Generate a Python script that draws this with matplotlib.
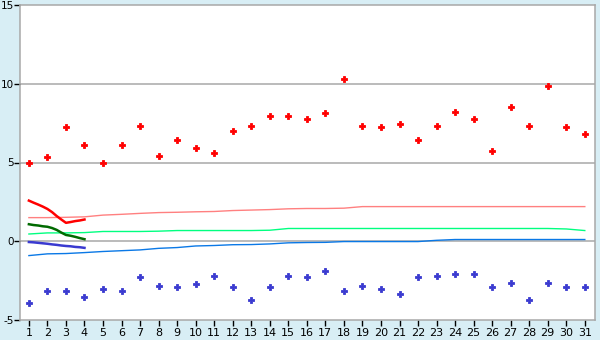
import numpy as np
import matplotlib
matplotlib.use("Agg")
import matplotlib.pyplot as plt

plt.rcParams['axes.unicode_minus'] = False

days = list(range(1, 32))

high_points = [5.0, 5.33, 7.24, 6.1, 5.0, 6.1, 7.3, 5.4, 6.41, 5.9, 5.59, 6.99, 7.3, 7.94, 7.94,
               7.75, 8.13, 10.3, 7.3, 7.24, 7.43, 6.41, 7.3, 8.2, 7.75, 5.71, 8.51, 7.3, 9.85, 7.24, 6.8]
low_points = [-3.89, -3.13, -3.19, -3.51, -3.0, -3.19, -2.3, -2.81, -2.88, -2.69, -2.18, -2.88, -3.7, -2.88, -2.18,
              -2.3, -1.92, -3.13, -2.81, -3.0, -3.32, -2.3, -2.18, -2.11, -2.11, -2.88, -2.62, -3.7, -2.62, -2.88, -2.88]

upper_avg = [1.50, 1.50, 1.52, 1.55, 1.66, 1.71, 1.77, 1.82, 1.84, 1.87, 1.89, 1.95, 1.98, 2.01, 2.06,
             2.08, 2.08, 2.10, 2.20, 2.20, 2.20, 2.20, 2.20, 2.20, 2.20, 2.20, 2.20, 2.20, 2.20, 2.20, 2.20]
mid_avg = [0.46, 0.53, 0.53, 0.55, 0.62, 0.62, 0.62, 0.64, 0.68, 0.68, 0.68, 0.68, 0.68, 0.70, 0.81,
           0.81, 0.81, 0.81, 0.81, 0.81, 0.81, 0.81, 0.81, 0.81, 0.81, 0.81, 0.81, 0.81, 0.81, 0.78, 0.68]
lower_avg = [-0.91, -0.80, -0.78, -0.72, -0.65, -0.60, -0.55, -0.45, -0.40, -0.30, -0.27, -0.22, -0.21, -0.17, -0.10,
             -0.08, -0.07, -0.02, -0.02, -0.02, -0.02, -0.02, 0.06, 0.11, 0.11, 0.11, 0.11, 0.11, 0.11, 0.11, 0.11]

cur_x = [1.0, 1.25, 1.5, 1.75, 2.0, 2.25, 2.5, 2.75, 3.0, 3.25, 3.5, 3.75, 4.0]
cur_high = [2.58, 2.45, 2.33, 2.2, 2.05, 1.85, 1.6, 1.38, 1.17, 1.22, 1.28, 1.32, 1.38]
cur_mid = [1.08, 1.03, 1.0, 0.95, 0.92, 0.84, 0.72, 0.55, 0.4, 0.35, 0.28, 0.2, 0.13]
cur_low = [-0.05, -0.07, -0.1, -0.13, -0.16, -0.2, -0.23, -0.27, -0.3, -0.32, -0.36, -0.38, -0.42]

bg = '#d8eef5'
grey = '#a8a8a8'

fig = plt.figure(figsize=(6, 3.4), dpi=100, facecolor=bg)
ax = fig.add_axes([20 / 600, 1 - 320 / 340, 575 / 600, 315 / 340])
ax.set_facecolor('white')

for yv in [0, 5, 10]:
    ax.axhline(yv, color=grey, lw=1.1, zorder=1)

ax.plot(days, upper_avg, color='#ff8080', lw=1.0, zorder=2)
ax.plot(days, mid_avg, color='#00ff80', lw=1.0, zorder=2)
ax.plot(days, lower_avg, color='#0a78e6', lw=1.0, zorder=2)

ax.plot(cur_x, cur_high, color='#ff0000', lw=1.8, zorder=3)
ax.plot(cur_x, cur_mid, color='#006a00', lw=1.8, zorder=3)
ax.plot(cur_x, cur_low, color='#3a3ad0', lw=1.8, zorder=3)

# small chunky plus markers
ax.plot(days, high_points, ls='none', marker='P', ms=4.6, color='#ff0000', mew=0.6, zorder=4)
ax.plot(days, low_points, ls='none', marker='P', ms=4.6, color='#3a3ad0', mew=0.6, zorder=4)

ax.set_xlim(0.52, 31.55)
ax.set_ylim(-5, 15)
ax.set_yticks([-5, 0, 5, 10, 15])
ax.set_xticks(days)
ax.set_xticklabels([str(d) for d in days])

for s in ax.spines.values():
    s.set_color(grey)
    s.set_linewidth(1.1)

ax.tick_params(axis='both', colors='black', labelsize=8, length=4, width=1, direction='out', pad=2)
ax.tick_params(axis='y', length=4, pad=0.5, labelsize=7.5)

fig.savefig('out.png', dpi=100, facecolor=bg)
